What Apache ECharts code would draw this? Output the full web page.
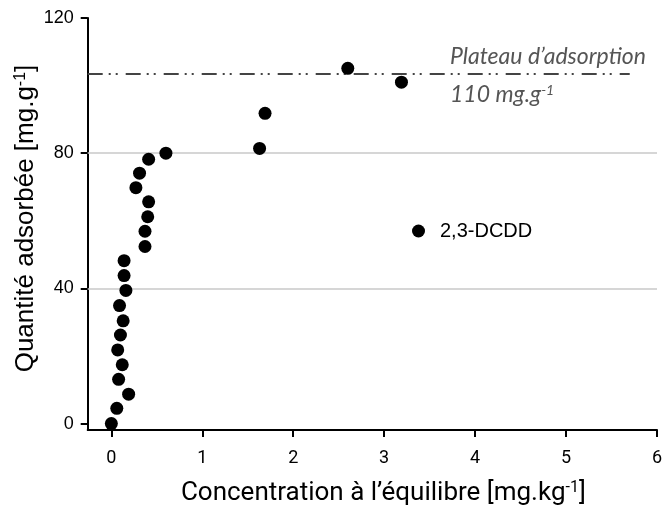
<!DOCTYPE html>
<html lang="fr">
<head>
  <meta charset="UTF-8">
  <script type="text/javascript" src="https://cdn.jsdelivr.net/npm/echarts@6/dist/echarts.min.js"></script>
  <title>Isotherme d'adsorption</title>
  <style type="text/css">
    * {
      margin: 0;
      padding: 0;
    }

    html, body {
      width: 100%;
      height: 100%;
      background-color: #fff;
    }

    #chart {
      width: 667px;
      height: 506px;
    }
  </style>
</head>

<body>
<div id="chart"></div>
</body>
<script type="text/javascript">
  // concentration à l'équilibre [mg/kg]
  var concentration = [0, 0.06, 0.19, 0.08, 0.12, 0.07, 0.10, 0.13, 0.09, 0.16, 0.14, 0.14,
    0.37, 0.37, 0.40, 0.41, 0.27, 0.31, 0.41, 0.60, 1.63, 1.69, 2.60, 3.19]
  // quantité adsorbée [mg/g]
  var adsorbed = [0, 4.5, 8.7, 13.1, 17.4, 21.8, 26.2, 30.4, 34.9, 39.4, 43.8, 48.2,
    52.4, 56.9, 61.2, 65.6, 69.8, 74.1, 78.2, 80.0, 81.4, 91.8, 105.1, 101.0]
  var seriesName = '2,3-DCDD'
  var xTickMax = 6, xTickStep = 1
  var yTickMax = 120, yTickStep = 40
  var gridLevels = [40, 80]
  var plateauLevel = 103.4
  var plateauEnd = 5.7

  // les axes démarrent un peu avant 0
  var xMin = -0.26, yMin = -1.9

  // dimensions de la zone de tracé (px)
  var plotLeft = 87.7, plotRight = 10, plotTop = 18, plotBottom = 76
  var plotW = 667 - plotLeft - plotRight
  var plotH = 506 - plotTop - plotBottom
  // décalage de l'origine 0 par rapport aux lignes d'axe
  var xShift = plotW * (-xMin) / (xTickMax - xMin)
  var yShift = plotH * (-yMin) / (yTickMax - yMin)

  var points = concentration.map(function (c, i) {
    return [c, adsorbed[i]]
  })

  // lignes de grille + plateau
  var lines = gridLevels.map(function (v) {
    return [
      {coord: [xMin, v], lineStyle: {color: '#c8c8c8', width: 1.5, type: 'solid'}},
      {coord: [xTickMax, v]}
    ]
  })
  lines.push([
    {coord: [xMin, plateauLevel], lineStyle: {color: '#444', width: 2, type: [15, 6, 2, 5, 2, 8]}},
    {coord: [plateauEnd, plateauLevel]}
  ])

  var font = 'Liberation Sans'
  var myChart = echarts.init(document.getElementById('chart'))
  var option = {
    animation: false,
    grid: [
      {
        // axes + points
        left: plotLeft, right: plotRight, top: plotTop, bottom: plotBottom,
        containLabel: false,
        outerBoundsMode: 'none'
      },
      {
        // graduations, origine à 0
        left: plotLeft + xShift, right: plotRight, top: plotTop, bottom: plotBottom + yShift,
        containLabel: false,
        outerBoundsMode: 'none'
      }
    ],
    legend: {
      data: [seriesName],
      left: 407,
      top: 216,
      icon: 'circle',
      itemWidth: 13,
      itemHeight: 13,
      itemStyle: {color: '#000', opacity: 1},
      textStyle: {
        fontFamily: font,
        fontSize: 20,
        color: '#000',
        padding: [0, 0, 0, 10]
      }
    },
    xAxis: [
      {
        gridIndex: 0,
        type: 'value',
        min: xMin,
        max: xTickMax,
        name: 'Concentration à l’équilibre [mg.kg{sup|-1}]',
        nameLocation: 'middle',
        nameGap: 50,
        nameTextStyle: {
          fontFamily: 'Roboto',
          fontSize: 26,
          color: '#000',
          padding: [0, 0, 0, 22],
          rich: {
            sup: {fontFamily: 'Roboto', fontSize: 16, color: '#000', verticalAlign: 'top', padding: [0, 0, 10, 0]}
          }
        },
        axisLine: {show: true, onZero: false, lineStyle: {color: '#000', width: 2}},
        axisTick: {show: false},
        axisLabel: {show: false},
        splitLine: {show: false}
      },
      {
        gridIndex: 1,
        type: 'value',
        min: 0,
        max: xTickMax,
        interval: xTickStep,
        offset: yShift,
        axisLine: {show: false, onZero: false},
        axisTick: {show: true, length: 7, lineStyle: {color: '#000', width: 2}},
        axisLabel: {
          show: true,
          margin: 19,
          fontFamily: 'Roboto',
          fontSize: 18,
          color: '#000'
        },
        splitLine: {show: false}
      }
    ],
    yAxis: [
      {
        gridIndex: 0,
        type: 'value',
        min: yMin,
        max: yTickMax,
        name: 'Quantité adsorbée [mg.g{sup|-1}]',
        nameLocation: 'middle',
        nameRotate: 90,
        nameGap: 49,
        nameTextStyle: {
          fontFamily: font,
          fontSize: 26,
          color: '#000',
          padding: [0, 0, 0, 11],
          rich: {
            sup: {fontFamily: font, fontSize: 16, color: '#000', verticalAlign: 'top', padding: [0, 0, 10, 0]}
          }
        },
        axisLine: {show: true, onZero: false, lineStyle: {color: '#000', width: 2}},
        axisTick: {show: false},
        axisLabel: {show: false},
        splitLine: {show: false}
      },
      {
        gridIndex: 1,
        type: 'value',
        min: 0,
        max: yTickMax,
        interval: yTickStep,
        offset: xShift,
        axisLine: {show: false, onZero: false},
        axisTick: {show: true, length: 7, lineStyle: {color: '#000', width: 2}},
        axisLabel: {
          show: true,
          margin: 14,
          fontFamily: font,
          fontSize: 18,
          color: '#000'
        },
        splitLine: {show: false}
      }
    ],
    graphic: [
      {
        type: 'text',
        x: 450,
        y: 57,
        style: {
          text: 'Plateau d’adsorption',
          font: 'italic 23px Lato',
          fill: '#555',
          verticalAlign: 'middle'
        }
      },
      {
        type: 'text',
        x: 450,
        y: 95,
        style: {
          text: '{b|110 mg.g}{s|-1}',
          verticalAlign: 'middle',
          rich: {
            b: {font: 'italic 23px Lato', fill: '#555'},
            s: {font: 'italic 14px Lato', fill: '#555', verticalAlign: 'top', padding: [0, 0, 9, 0]}
          }
        }
      }
    ],
    series: [
      {
        name: seriesName,
        type: 'scatter',
        xAxisIndex: 0,
        yAxisIndex: 0,
        symbol: 'circle',
        symbolSize: 13,
        itemStyle: {color: '#000', opacity: 1},
        data: points,
        markLine: {
          silent: true,
          z: 1,
          symbol: 'none',
          label: {show: false},
          data: lines
        }
      }
    ]
  }
  myChart.setOption(option)
</script>
</html>
